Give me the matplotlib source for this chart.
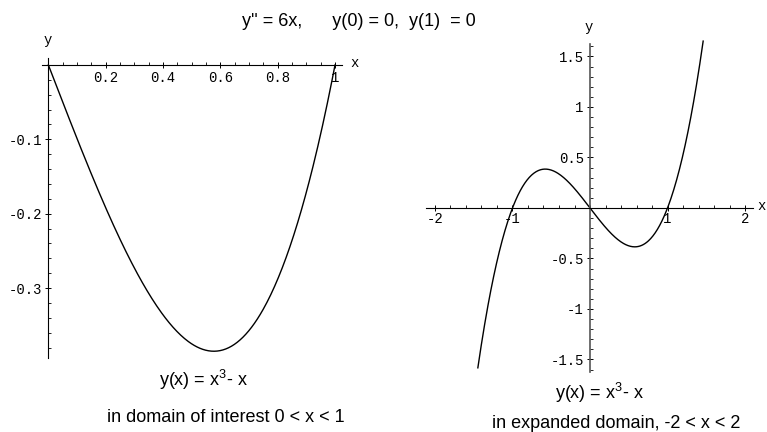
import numpy as np
import matplotlib
matplotlib.use("Agg")
import matplotlib.pyplot as plt
from matplotlib.ticker import FixedLocator, MultipleLocator

plt.rcParams['axes.unicode_minus'] = False
plt.rcParams['mathtext.fontset'] = 'custom'
plt.rcParams['mathtext.rm'] = 'Liberation Sans'
plt.rcParams['mathtext.it'] = 'Liberation Sans'

# Data: polynomial y = x^3 - x (coefficients, highest power first)
coeffs = [1, 0, -1, 0]
x_left_range = [0.0, 1.0]
x_right_range = [-1.447, 1.46]

left_xticks = [0.2, 0.4, 0.6, 0.8, 1]
left_xticklabels = ["0.2", "0.4", "0.6", "0.8", "1"]
left_yticks = [-0.3, -0.2, -0.1]
left_yticklabels = ["-0.3", "-0.2", "-0.1"]

right_xticks = [-2, -1, 1, 2]
right_xticklabels = ["-2", "-1", "1", "2"]
right_yticks = [-1.5, -1, -0.5, 0.5, 1, 1.5]
right_yticklabels = ["-1.5", "-1", "-0.5", "0.5", "1", "1.5"]

title = "y'' = 6x,      y(0) = 0,  y(1)  = 0"
left_formula = "y(x) = x$^{3}$- x"
left_caption = "in domain of interest 0 < x < 1"
right_formula = "y(x) = x$^{3}$- x"
right_caption = "in expanded domain, -2 < x < 2"

W, H = 767, 432
fig = plt.figure(figsize=(W / 100, H / 100), dpi=100)

def ax_at(x0, y0, x1, y1):
    return fig.add_axes([x0 / W, 1 - y1 / H, (x1 - x0) / W, (y1 - y0) / H])

def ftext(px, py, s, **kw):
    fig.text(px / W, 1 - py / H, s, **kw)

mono = dict(family='Liberation Mono', fontsize=10)
sans = dict(family='Liberation Sans', fontsize=13)

def style_axes(ax, pad=2):
    ax.patch.set_visible(False)
    for s in ['top', 'right']:
        ax.spines[s].set_visible(False)
    ax.spines['left'].set_position(('data', 0))
    ax.spines['bottom'].set_position(('data', 0))
    for s in ['left', 'bottom']:
        ax.spines[s].set_linewidth(0.8)
        ax.spines[s].set_color('black')
    ax.tick_params(which='major', direction='inout', length=5, width=0.7, pad=pad)
    ax.tick_params(which='minor', direction='in', length=2.5, width=0.6)
    for lbl in ax.get_xticklabels() + ax.get_yticklabels():
        lbl.set_fontfamily('Liberation Mono')
        lbl.set_fontsize(10)

# Left axes
axL = ax_at(41.7, 58, 341.7, 358)
xl = np.linspace(x_left_range[0], x_left_range[1], 300)
axL.plot(xl, np.polyval(coeffs, xl), color='black', lw=1.0)
axL.set_xlim(-0.0233, 1.0233)
axL.set_ylim(-0.394, 0.0094)
axL.xaxis.set_major_locator(FixedLocator(left_xticks))
axL.set_xticklabels(left_xticklabels)
axL.xaxis.set_minor_locator(MultipleLocator(0.05))
axL.yaxis.set_major_locator(FixedLocator(left_yticks))
axL.set_yticklabels(left_yticklabels)
axL.yaxis.set_minor_locator(MultipleLocator(0.02))
style_axes(axL)

# Right axes
axR = ax_at(426, 40, 753, 372)
xr = np.linspace(x_right_range[0], x_right_range[1], 400)
axR.plot(xr, np.polyval(coeffs, xr), color='black', lw=1.0)
axR.set_xlim(-2.116, 2.103)
axR.set_ylim(-1.624, 1.663)
axR.xaxis.set_major_locator(FixedLocator(right_xticks))
axR.set_xticklabels(right_xticklabels)
axR.xaxis.set_minor_locator(MultipleLocator(0.2))
axR.yaxis.set_major_locator(FixedLocator(right_yticks))
axR.set_yticklabels(right_yticklabels)
axR.yaxis.set_minor_locator(MultipleLocator(0.1))
style_axes(axR)
axR.tick_params(axis='x', which='major', pad=0.5)
axR.spines['left'].set_bounds(-1.624, 1.62)
axR.spines['left'].set_color('#555555')
axR.spines['left'].set_linewidth(1.2)

# Axis name labels
ftext(48, 40, "y", ha='center', va='center', **mono)
ftext(355, 63, "x", ha='center', va='center', **mono)
ftext(589, 27, "y", ha='center', va='center', **mono)
ftext(757, 206, "x", ha='left', va='center', **mono)

# Texts
ftext(359, 22, title, ha='center', va='center', **sans)
ftext(203, 380, left_formula, ha='center', va='center', **sans)
ftext(226, 418, left_caption, ha='center', va='center', **sans)
ftext(599, 393, right_formula, ha='center', va='center', **sans)
ftext(616, 423, right_caption, ha='center', va='center', **sans)

fig.savefig("out.png", dpi=100)
